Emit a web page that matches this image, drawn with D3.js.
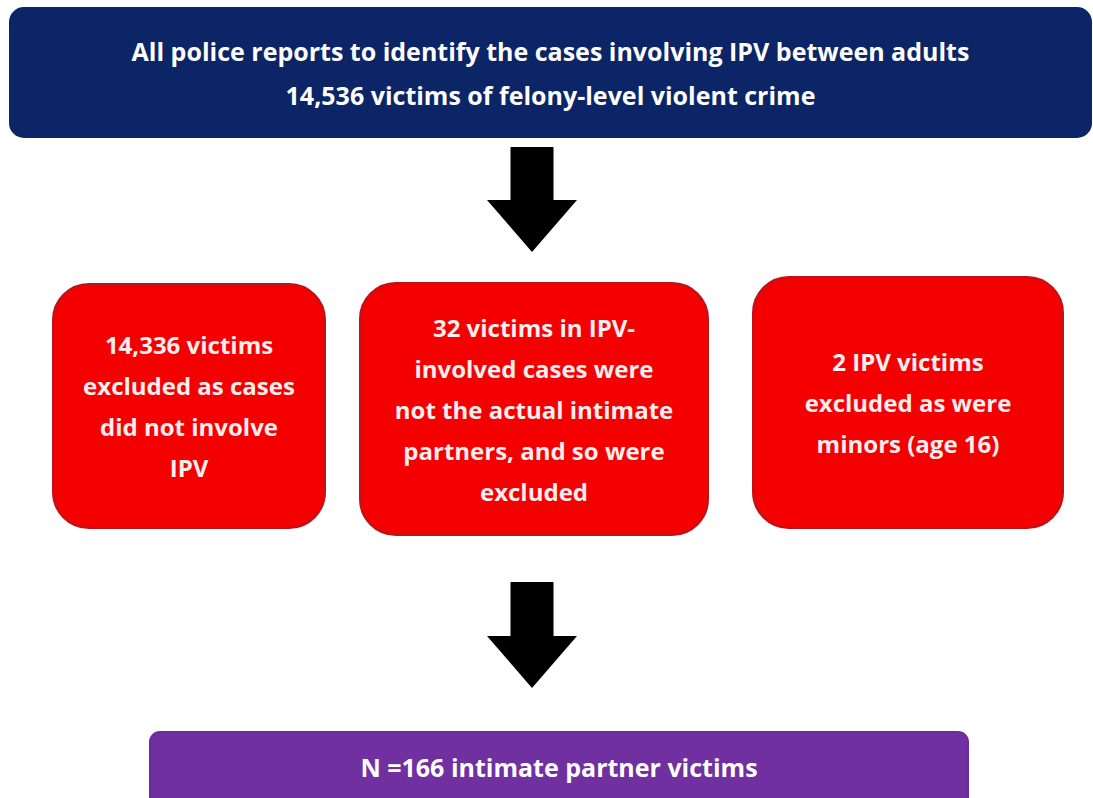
<!DOCTYPE html>
<html lang="en">
<head>
    <meta charset="UTF-8">
    <title>IPV victims flowchart</title>
    <script src="https://d3js.org/d3.v7.min.js"></script>
    <style>
        body { margin: 0; background: #fff; }
        svg text { font-family: "Open Sans", "Noto Sans", Arial, sans-serif; font-weight: 700; }
    </style>
</head>
<body>
    <div id="chart"></div>
    <script>
        // text content of the flowchart
        const topLines = [
            "All police reports to identify the cases involving IPV between adults",
            "14,536 victims of felony-level violent crime"
        ];
        const excludedLines = [
            ["14,336 victims", "excluded as cases", "did not involve", "IPV"],
            ["32 victims in IPV-", "involved cases were", "not the actual intimate", "partners, and so were", "excluded"],
            ["2 IPV victims", "excluded as were", "minors (age 16)"]
        ];
        const finalLines = ["N =166 intimate partner victims"];

        const width = 1093, height = 798;

        const svg = d3.select("#chart")
            .append("svg")
            .attr("width", width)
            .attr("height", height);

        // box layout (x, y, w, h)
        const topBox = { x: 10, y: 8, w: 1081, h: 129 };
        const redBoxes = [
            { x: 53, y: 284, w: 272, h: 244 },
            { x: 360, y: 283, w: 348, h: 252 },
            { x: 753, y: 277, w: 310, h: 251 }
        ];
        const bottomBox = { x: 150, y: 732, w: 818, h: 80 };

        function drawBox(b, lines, opts) {
            const g = svg.append("g");
            g.append("rect")
                .attr("x", b.x).attr("y", b.y)
                .attr("width", b.w).attr("height", b.h)
                .attr("rx", opts.r).attr("ry", opts.r)
                .style("fill", opts.fill)
                .style("stroke", opts.stroke)
                .style("stroke-width", opts.sw || 2);
            const cx = b.x + b.w / 2;
            const cy = opts.cy !== undefined ? opts.cy : b.y + b.h / 2;
            const lh = opts.lh;
            g.selectAll("text")
                .data(lines)
                .enter()
                .append("text")
                .attr("x", cx)
                .attr("y", (d, i) => cy + (i - (lines.length - 1) / 2) * lh)
                .attr("dy", "0.35em")
                .attr("text-anchor", "middle")
                .style("fill", opts.color)
                .style("font-size", opts.fs + "px")
                .text(d => d);
        }

        drawBox(topBox, topLines, { r: 14, fill: "#0b2566", stroke: "#0b2566", color: "#ffffff", fs: 25, lh: 44, cy: 74 });

        redBoxes.forEach((b, i) => {
            drawBox(b, excludedLines[i], { r: 36, fill: "#f40000", stroke: "#b8141c", sw: 2, color: "#fbeeee", fs: 24, lh: 41, cy: b.y + b.h / 2 + 1.5 });
        });

        drawBox(bottomBox, finalLines, { r: 10, fill: "#7030a0", stroke: "#6a2c98", color: "#ffffff", fs: 25, lh: 40, cy: 768 });

        // down arrows
        function arrow(cx, top, bottom) {
            const shaftHalf = 21.5, headHalf = 45, headLen = 52;
            const pts = [
                [cx - shaftHalf, top], [cx + shaftHalf, top],
                [cx + shaftHalf, bottom - headLen], [cx + headHalf, bottom - headLen],
                [cx, bottom],
                [cx - headHalf, bottom - headLen], [cx - shaftHalf, bottom - headLen]
            ];
            svg.append("path")
                .attr("d", d3.line()(pts) + "Z")
                .style("fill", "#000");
        }
        arrow(532, 147, 252);
        arrow(532, 582, 688);
    </script>
</body>
</html>
